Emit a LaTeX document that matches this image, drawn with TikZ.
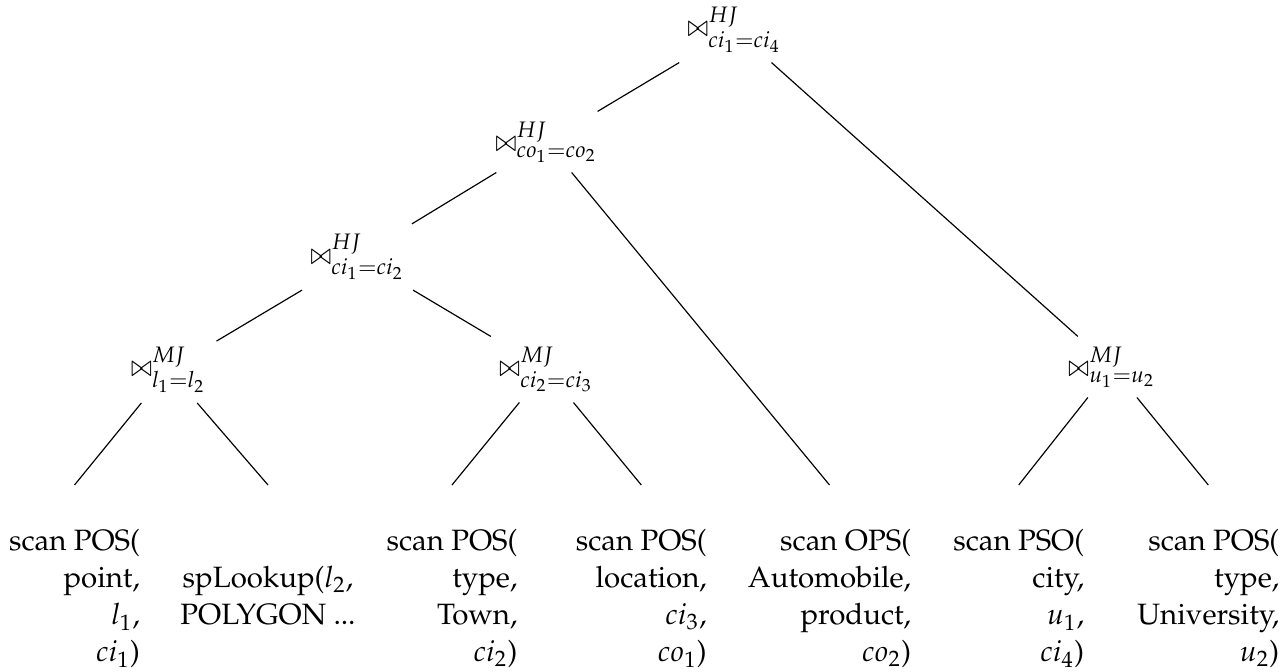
\documentclass[tikz,border=0pt]{standalone}
\usepackage[T1]{fontenc}
\usepackage{mathpazo}
\usepackage{graphicx}
\linespread{1.05}
% slimmer join symbol
\newcommand{\jn}{\mathrel{\scalebox{0.8}[1]{$\bowtie$}}}
\begin{document}
\begin{tikzpicture}[x=0.34pt,y=-0.34pt,
  joinop/.style={anchor=base, inner sep=0.3333em},
  leafbox/.style={anchor=north, inner sep=0pt, text height=22.1pt},
  treeline/.style={line width=0.4pt}]
\useasboundingbox (0,0) rectangle (1287,672);

% join operators
\node[joinop] (root) at (734.5,37)  {$\jn^{HJ}_{ci_1=ci_4}$};
\node[joinop] (co)   at (546.5,152) {$\jn^{HJ}_{co_1=co_2}$};
\node[joinop] (ci)   at (357.5,264.5) {$\jn^{HJ}_{ci_1=ci_2}$};
\node[joinop] (l)    at (168.5,377) {$\jn^{MJ}_{l_1=l_2}$};
\node[joinop] (cc)   at (546.3,377) {$\jn^{MJ}_{ci_2=ci_3}$};
\node[joinop] (u)    at (1112,377)  {$\jn^{MJ}_{u_1=u_2}$};

% scans and lookups
\node[leafbox] (s1) at (74.5,485)
  {\begin{tabular}[t]{@{}r@{}}scan POS(\\point,\\$l_1$,\\$ci_1$)\end{tabular}};
\node[leafbox, text height=34.7pt] (s2) at (268,485)
  {\begin{tabular}[t]{@{}c@{}}spLookup($l_2$,\\POLYGON ...\end{tabular}};
\node[leafbox] (s3) at (452,485)
  {\begin{tabular}[t]{@{}r@{}}scan POS(\\type,\\Town,\\$ci_2$)\end{tabular}};
\node[leafbox] (s4) at (641.3,485)
  {\begin{tabular}[t]{@{}r@{}}scan POS(\\location,\\$ci_3$,\\$co_1$)\end{tabular}};
\node[leafbox] (s5) at (829.5,485)
  {\begin{tabular}[t]{@{}r@{}}scan OPS(\\Automobile,\\product,\\$co_2$)\end{tabular}};
\node[leafbox] (s6) at (1018.7,485)
  {\begin{tabular}[t]{@{}r@{}}scan PSO(\\city,\\$u_1$,\\$ci_4$)\end{tabular}};
\node[leafbox] (s7) at (1208.3,485)
  {\begin{tabular}[t]{@{}r@{}}scan POS(\\type,\\University,\\$u_2$)\end{tabular}};

% tree edges
\draw[treeline] (root) -- (co);
\draw[treeline] (root) -- (u);
\draw[treeline] (co) -- (ci);
\draw[treeline] (co) -- (s5.north);
\draw[treeline] (ci) -- (l);
\draw[treeline] (ci) -- (cc);
\draw[treeline] (l) -- (s1.north);
\draw[treeline] (l) -- (s2.north);
\draw[treeline] (cc) -- (s3.north);
\draw[treeline] (cc) -- (s4.north);
\draw[treeline] (u) -- (s6.north);
\draw[treeline] (u) -- (s7.north);
\end{tikzpicture}
\end{document}
